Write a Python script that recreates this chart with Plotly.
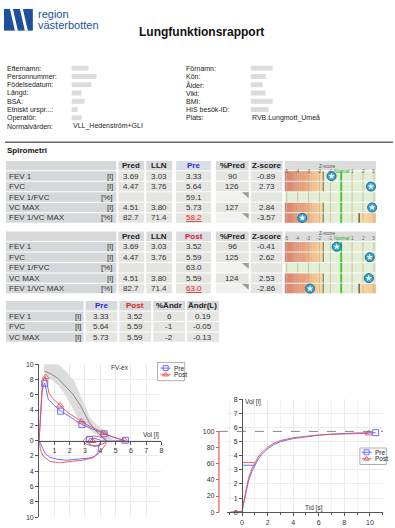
import plotly.graph_objects as go

W, H = 395, 528
FONT = "Liberation Sans, Arial, sans-serif"

# ---------------- data ----------------
info_left_labels = ["Efternamn:", "Personnummer:", "Födelsedatum:", "Längd:", "BSA:",
                    "Etniskt urspr...:", "Operatör:", "Normalvärden:"]
info_right_labels = ["Förnamn:", "Kön:", "Ålder:", "Vikt:", "BMI:", "HIS besök-ID:", "Plats:"]
normalvarden = "VLL_Hedenström+GLI"
plats = "RVB.Lungmott_Umeå"

params = ["FEV 1", "FVC", "FEV 1/FVC", "VC MAX", "FEV 1/VC MAX"]
units = ["[l]", "[l]", "[%]", "[l]", "[%]"]
pred = [3.69, 4.47, None, 4.51, 82.7]
lln = [3.03, 3.76, None, 3.80, 71.4]
pre_val = [3.33, 5.64, 59.1, 5.73, 58.2]
pre_pctpred = [90, 126, None, 127, None]
pre_z = [-0.89, 2.73, None, 2.84, -3.57]
post_val = [3.52, 5.59, 63.0, 5.59, 63.0]
post_pctpred = [96, 125, None, 124, None]
post_z = [-0.41, 2.62, None, 2.53, -2.86]
below_lln = [False, False, False, False, True]

chg_params = ["FEV 1", "FVC", "VC MAX"]
chg_pre = [3.33, 5.64, 5.73]
chg_post = [3.52, 5.59, 5.59]
chg_pct = [6, -1, -2]
chg_abs = [0.19, -0.05, -0.13]

z_tick_vals = [-5, -4, -3, -2, -1, 1, 2, 3]

# flow-volume (volume l, flow l/s)
ref_pred_vol = [0.35, 0.8, 1.25, 1.7, 2.2, 2.7, 3.3, 3.8, 4.38]
ref_pred_flow = [9.1, 8.7, 8.1, 7.2, 6.1, 4.6, 2.3, 1.1, 0.0]
ref_up_vol = [0.3, 0.7, 1.25, 1.8, 2.3, 2.8, 3.3, 3.8, 4.4, 4.9]
ref_up_flow = [11.0, 11.0, 10.0, 9.0, 7.8, 5.5, 3.1, 2.0, 1.2, 0.0]
ref_lo_vol = [0.35, 0.8, 1.25, 1.7, 2.0, 2.5, 2.9, 3.5, 3.95, 4.2]
ref_lo_flow = [8.6, 8.0, 7.2, 6.0, 4.8, 3.1, 2.0, 1.1, 0.5, 0.0]

pre_fv_vol = [0, 0.05, 0.12, 0.2, 0.3, 0.37, 0.45, 0.6, 0.8, 1.0, 1.2, 1.45, 1.7, 2.0, 2.4,
              2.8, 3.2, 3.6, 4.0, 4.25, 4.5, 4.8, 5.1, 5.4, 5.64,
              5.0, 4.5, 4.1, 3.9, 3.6, 3.3, 3.2, 3.3, 3.6, 3.95, 4.0, 3.9, 3.84, 3.6, 3.3,
              2.65, 1.78, 1.2, 0.7, 0.4, 0.15, 0.05, 0]
pre_fv_flow = [0, 2.0, 4.5, 6.5, 7.3, 7.5, 6.8, 5.4, 5.0, 4.6, 4.2, 3.85, 3.5, 3.1, 2.6,
               2.1, 1.75, 1.4, 1.05, 0.9, 0.7, 0.5, 0.3, 0.12, 0.0,
               -0.05, -0.1, -0.05, 0.15, 0.3, 0.25, -0.1, -0.5, -0.75, -0.7, -0.3, -0.6, -1.6,
               -2.1, -2.26, -2.4, -2.56, -2.45, -2.17, -1.7, -0.75, -0.3, 0]
post_fv_vol = [0, 0.05, 0.12, 0.2, 0.3, 0.4, 0.5, 0.65, 0.85, 1.1, 1.37, 1.7, 2.0, 2.4, 2.75,
               3.1, 3.5, 3.9, 4.2, 4.5, 4.8, 5.1, 5.4, 5.59,
               5.0, 4.5, 4.3, 4.1, 3.6, 3.1, 2.9, 3.0, 3.4, 3.9, 4.3, 4.4, 4.35, 4.2, 3.95,
               3.5, 2.86, 2.2, 1.34, 0.7, 0.26, 0.09, 0]
post_fv_flow = [0, 2.2, 5.0, 7.2, 8.1, 8.4, 7.6, 6.2, 5.6, 5.1, 4.6, 4.0, 3.5, 3.0, 2.5,
                2.1, 1.7, 1.3, 1.0, 0.75, 0.5, 0.3, 0.12, 0.0,
                -0.1, -0.15, 0.2, 0.45, 0.6, 0.45, 0.0, -0.4, -0.65, -0.6, -0.3, -0.1, -0.5,
                -0.9, -1.6, -2.26, -2.56, -2.7, -2.9, -2.7, -2.0, -1.2, 0]
pre_fv_mark_vol = [0.37, 1.41, 2.8, 4.25, 5.64, 3.3]
pre_fv_mark_flow = [7.5, 3.85, 2.1, 0.9, 0.05, 0.15]
post_fv_mark_vol = [0.43, 1.37, 2.75, 4.2, 5.59, 3.5]
post_fv_mark_flow = [8.3, 4.6, 2.5, 1.0, 0.05, -0.05]

# volume-time (s, l)
pre_vt_t = [-0.9, -0.3, 0, 0.1, 0.25, 0.5, 0.75, 1.0, 1.25, 1.5, 2, 2.5, 3, 4, 5, 6, 7, 8, 9, 10.45]
pre_vt_v = [0, 0, 0.05, 0.5, 1.2, 2.2, 2.85, 3.33, 3.75, 4.05, 4.5, 4.8, 5.0, 5.22, 5.36, 5.46,
            5.53, 5.58, 5.62, 5.64]
post_vt_t = [-0.9, -0.3, 0, 0.1, 0.25, 0.5, 0.75, 1.0, 1.25, 1.5, 2, 2.5, 3, 4, 5, 6, 7, 8, 9, 9.9]
post_vt_v = [0, 0, 0.05, 0.6, 1.35, 2.4, 3.05, 3.52, 3.9, 4.2, 4.62, 4.9, 5.08, 5.28, 5.4, 5.48,
             5.53, 5.56, 5.58, 5.59]

PRE_C = "rgba(95,95,250,0.9)"
POST_C = "rgba(235,80,80,0.9)"

# ---------------- helpers ----------------
shapes, ann = [], []


def X(p):
    return p / W


def Y(p):
    return 1 - p / H


def rect(x0, y0, x1, y1, fill, line_color=None, lw=0):
    shapes.append(dict(type="rect", xref="paper", yref="paper", x0=X(x0), x1=X(x1),
                       y0=Y(y1), y1=Y(y0), fillcolor=fill,
                       line=dict(width=lw, color=line_color or fill), layer="below"))


def hline(x0, y0, x1, y1, color, width=1):
    shapes.append(dict(type="line", xref="paper", yref="paper", x0=X(x0), x1=X(x1),
                       y0=Y(y0), y1=Y(y1), line=dict(color=color, width=width)))


def path(pts, fill):
    s = "M " + " L ".join(f"{X(x):.5f},{Y(y):.5f}" for x, y in pts) + " Z"
    shapes.append(dict(type="path", xref="paper", yref="paper", path=s, fillcolor=fill,
                       line=dict(width=0), layer="below"))


def txt(x, y, s, size=8, color="#222", anchor="left", bold=False):
    if bold:
        s = f"<b>{s}</b>"
    ann.append(dict(xref="paper", yref="paper", x=X(x), y=Y(y), text=s, showarrow=False,
                    xanchor=anchor, yanchor="middle", borderpad=0,
                    font=dict(size=size, color=color, family=FONT)))


def zrect(z0, z1, y0, y1, fill):
    shapes.append(dict(type="rect", xref="x3", yref="paper", x0=z0, x1=z1, y0=Y(y1), y1=Y(y0),
                       fillcolor=fill, line=dict(width=0), layer="below"))


def zline(z, y0, y1, color, width):
    shapes.append(dict(type="line", xref="x3", yref="paper", x0=z, x1=z, y0=Y(y1), y1=Y(y0),
                       line=dict(color=color, width=width), layer="below"))


def interp_color(z, stops):
    for (za, ca), (zb, cb) in zip(stops[:-1], stops[1:]):
        if za <= z <= zb:
            f = (z - za) / (zb - za)
            c = [round(a + (b - a) * f) for a, b in zip(ca, cb)]
            return f"rgb({c[0]},{c[1]},{c[2]})"
    c = stops[-1][1]
    return f"rgb({c[0]},{c[1]},{c[2]})"


def fmt(v, unit):
    if v is None:
        return ""
    return f"{v:.2f}" if unit == "[l]" else f"{v:.1f}"


# ---------------- header / logo ----------------
LOGO = "#1d4f9e"
rect(4, 5, 33, 27, LOGO)
path([(10, 5), (13, 5), (18, 27), (15, 27)], "white")
path([(20, 5), (23, 5), (28, 27), (25, 27)], "white")
txt(37, 10.5, "region", 11, LOGO)
txt(37, 21.5, "västerbotten", 11, LOGO)
txt(202.5, 28, "Lungfunktionsrapport", 12, "#111", "center", True)

ROW0, STEP = 65, 8.4
left_w = [17, 25, 20, 10, 13, 6, 10]
right_w = [22, 15, 12, 15, 22, 18]
for i, lab in enumerate(info_left_labels):
    y = ROW0 + STEP * i
    txt(6, y, lab, 7, "#222")
    if i < len(left_w):
        rect(72, y - 2.5, 72 + left_w[i], y + 2.5, "#dcdcdc")
txt(72, ROW0 + STEP * 7, normalvarden, 7, "#222")
for i, lab in enumerate(info_right_labels):
    y = ROW0 + STEP * i
    txt(186, y, lab, 7, "#222")
    if i < len(right_w):
        rect(252, y - 2.5, 252 + right_w[i], y + 2.5, "#dcdcdc")
txt(252, ROW0 + STEP * 6, plats, 7, "#222")

hline(5, 140, 395, 140, "#666", 1.5)
txt(6, 148.5, "Spirometri", 8, "#111", bold=True)

# ---------------- main tables ----------------
PITCH, CH = 10.6, 9.6
LABEL_C, VAL_C, HEAD_C, HEADV_C, EMPTY_C = "#d5d8da", "#e5e5e2", "#d7d9db", "#d9dde5", "#f1f1ef"
cols = [(6, 117), (119, 145), (147, 173), (177, 212), (217, 250), (252, 284)]
BAR0, BAR1 = 286, 378
ZMIN, ZMAX = -5.2, 3.2
GREEN_BG = "#e4eed5"
LEFT_STOPS = [(-5.2, (216, 128, 108)), (-4.0, (228, 148, 118)), (-3.0, (238, 172, 128)),
              (-2.2, (247, 200, 145)), (-1.645, (251, 222, 170))]
RIGHT_STOPS = [(1.645, (250, 218, 166)), (3.2, (244, 194, 138))]

zmark_x, zmark_y = [], []


def main_table(top, val, pct, zs, head_txt, head_col):
    for i, (a, b) in enumerate(cols):
        rect(a, top, b, top + CH, HEADV_C if i == 3 else HEAD_C)
    cy = top + CH / 2
    heads = ["", "Pred", "LLN", head_txt, "%Pred", "Z-score"]
    colors = ["#222", "#222", "#222", head_col, "#222", "#222"]
    for (a, b), h, c in zip(cols, heads, colors):
        if h:
            txt((a + b) / 2, cy, h, 8, c, "center", True)
    # z-score header
    zrect(ZMIN, ZMAX, top, top + CH, "#dcdcdc")
    ann.append(dict(xref="x3", yref="paper", x=-1.3, y=Y(top + 2.0), text="Z-score",
                    showarrow=False, borderpad=0, font=dict(size=4.8, color="#555", family=FONT)))
    for zt in z_tick_vals:
        ann.append(dict(xref="x3", yref="paper", x=zt, y=Y(top + 6.8), text=str(zt),
                        showarrow=False, borderpad=0, font=dict(size=4.8, color="#666", family=FONT)))
    ann.append(dict(xref="x3", yref="paper", x=0.05, y=Y(top + 6.8), text="Normal",
                    showarrow=False, borderpad=0, font=dict(size=4.8, color="#22aa22", family=FONT)))
    for r in range(len(params)):
        yt = top + (r + 1) * PITCH
        yb = yt + CH
        cy = yt + CH / 2
        u = units[r]
        rect(cols[0][0], yt, cols[0][1], yb, LABEL_C)
        txt(8, cy, params[r], 8, "#333")
        txt(115, cy, u, 8, "#333", "right")
        rect(cols[1][0], yt, cols[1][1], yb, VAL_C)
        txt(sum(cols[1]) / 2, cy, fmt(pred[r], u), 8, "#333", "center")
        rect(cols[2][0], yt, cols[2][1], yb, VAL_C)
        txt(sum(cols[2]) / 2, cy, fmt(lln[r], u), 8, "#333", "center")
        rect(cols[3][0], yt, cols[3][1], yb, VAL_C)
        s = fmt(val[r], u)
        if below_lln[r]:
            txt(sum(cols[3]) / 2, cy, f"<u>{s}</u>", 8, "#e02020", "center")
        else:
            txt(sum(cols[3]) / 2, cy, s, 8, "#333", "center")
        a, b = cols[4]
        if pct[r] is None:
            rect(a, yt, b, yb, EMPTY_C)
            path([(b - 7, yt), (b, yt), (b, yt + 6)], "#9a9a9a")
        else:
            rect(a, yt, b, yb, VAL_C)
            txt((a + b) / 2, cy, str(pct[r]), 8, "#333", "center")
        rect(cols[5][0], yt, cols[5][1], yb, VAL_C)
        if zs[r] is not None:
            txt(sum(cols[5]) / 2, cy, f"{zs[r]:.2f}", 8, "#333", "center")
        # z-score bar
        zrect(ZMIN, ZMAX, yt, yb, GREEN_BG)
        if zs[r] is not None:
            n = 18
            step = (-1.645 - ZMIN) / n
            for k in range(n):
                z0 = ZMIN + k * step
                zrect(z0, z0 + step * 1.05, yt, yb, interp_color(z0 + step / 2, LEFT_STOPS))
            if below_lln[r]:
                n2 = 8
                step2 = (ZMAX - 1.645) / n2
                for k in range(n2):
                    z0 = 1.645 + k * step2
                    zrect(z0, z0 + step2 * 1.05, yt, yb, interp_color(z0 + step2 / 2, RIGHT_STOPS))
        for zt in z_tick_vals:
            zline(zt, yt, yb, "#b9b9a6", 0.8)
        if zs[r] is not None:
            zline(-1.645, yt, yb, "#8c8468", 1.3)
            if below_lln[r]:
                zline(1.645, yt, yb, "#5a4c34", 1.3)
        zline(0, yt, yb, "#2ccc2c", 1.8)
        if zs[r] is not None:
            zmark_x.append(zs[r])
            zmark_y.append(cy)


main_table(159, pre_val, pre_pctpred, pre_z, "Pre", "#2b2be0")
main_table(230.6, post_val, post_pctpred, post_z, "Post", "#e02020")

# ---------------- change table ----------------
top3 = 301
cols3 = [(6, 84), (86, 118), (120, 152), (154, 186), (188, 220)]
heads3 = ["", "Pre", "Post", "%Ändr", "Ändr(L)"]
hcol3 = ["#222", "#2b2be0", "#e02020", "#222", "#222"]
for i, ((a, b), h, c) in enumerate(zip(cols3, heads3, hcol3)):
    rect(a, top3, b, top3 + CH, HEAD_C)
    if h:
        txt((a + b) / 2, top3 + CH / 2, h, 8, c, "center", True)
for r in range(len(chg_params)):
    yt = top3 + (r + 1) * PITCH
    yb = yt + CH
    cy = yt + CH / 2
    rect(cols3[0][0], yt, cols3[0][1], yb, LABEL_C)
    txt(8, cy, chg_params[r], 8, "#333")
    txt(82, cy, "[l]", 8, "#333", "right")
    vals = [f"{chg_pre[r]:.2f}", f"{chg_post[r]:.2f}", str(chg_pct[r]), f"{chg_abs[r]:.2f}"]
    for (a, b), s in zip(cols3[1:], vals):
        rect(a, yt, b, yb, VAL_C)
        txt((a + b) / 2, cy, s, 8, "#333", "center")

# ---------------- figure ----------------
fig = go.Figure()
NOH = dict(hoverinfo="skip", showlegend=False)

# flow-volume
fig.add_trace(go.Scatter(x=ref_up_vol + ref_lo_vol[::-1], y=ref_up_flow + ref_lo_flow[::-1],
                         fill="toself", fillcolor="#dcdcdc", mode="lines", line=dict(width=0),
                         xaxis="x", yaxis="y", **NOH))
fig.add_trace(go.Scatter(x=ref_pred_vol, y=ref_pred_flow, mode="lines",
                         line=dict(color="#8a8a8a", width=1), xaxis="x", yaxis="y", **NOH))
fig.add_trace(go.Scatter(x=pre_fv_vol, y=pre_fv_flow, mode="lines", line=dict(color=PRE_C, width=1),
                         xaxis="x", yaxis="y", **NOH))
fig.add_trace(go.Scatter(x=post_fv_vol, y=post_fv_flow, mode="lines", line=dict(color=POST_C, width=1),
                         xaxis="x", yaxis="y", **NOH))
fig.add_trace(go.Scatter(x=pre_fv_mark_vol, y=pre_fv_mark_flow, mode="markers",
                         marker=dict(symbol="square-open", size=6, color=PRE_C, line=dict(width=1)),
                         xaxis="x", yaxis="y", **NOH))
fig.add_trace(go.Scatter(x=post_fv_mark_vol, y=post_fv_mark_flow, mode="markers",
                         marker=dict(symbol="triangle-up-open", size=6, color=POST_C, line=dict(width=1)),
                         xaxis="x", yaxis="y", **NOH))

# volume-time
fig.add_trace(go.Scatter(x=pre_vt_t, y=pre_vt_v, mode="lines", line=dict(color=PRE_C, width=1),
                         xaxis="x2", yaxis="y2", **NOH))
fig.add_trace(go.Scatter(x=post_vt_t, y=post_vt_v, mode="lines", line=dict(color=POST_C, width=1),
                         xaxis="x2", yaxis="y2", **NOH))
fig.add_trace(go.Scatter(x=[0, 1], y=[chg_pre[0]] * 2, mode="lines", line=dict(color=PRE_C, width=1),
                         xaxis="x2", yaxis="y2", **NOH))
fig.add_trace(go.Scatter(x=[0, 1], y=[chg_post[0]] * 2, mode="lines", line=dict(color=POST_C, width=1),
                         xaxis="x2", yaxis="y2", **NOH))
fig.add_trace(go.Scatter(x=pre_vt_t[-1:], y=pre_vt_v[-1:], mode="markers", cliponaxis=False,
                         marker=dict(symbol="square-open", size=6, color=PRE_C, line=dict(width=1)),
                         xaxis="x2", yaxis="y2", **NOH))
fig.add_trace(go.Scatter(x=post_vt_t[-1:], y=post_vt_v[-1:], mode="markers", cliponaxis=False,
                         marker=dict(symbol="triangle-up-open", size=6, color=POST_C, line=dict(width=1)),
                         xaxis="x2", yaxis="y2", **NOH))
fig.add_trace(go.Scatter(x=[None], y=[None], mode="lines", xaxis="x2", yaxis="y3", **NOH))

# z-score markers
fig.add_trace(go.Scatter(x=zmark_x, y=zmark_y, mode="markers", cliponaxis=False,
                         marker=dict(symbol="circle", size=9, color="#36a8d8",
                                     line=dict(color="#1b6790", width=1)),
                         xaxis="x3", yaxis="y4", **NOH))
fig.add_trace(go.Scatter(x=zmark_x, y=zmark_y, mode="markers", cliponaxis=False,
                         marker=dict(symbol="star", size=5, color="white", line=dict(width=0)),
                         xaxis="x3", yaxis="y4", **NOH))


# hand-drawn legends (pixel axis x4/y4)
def legend_box(x0, y0, x1, y1, rows, glyph_x0, glyph_x1, text_x):
    shapes.append(dict(type="rect", xref="x4", yref="y4", x0=x0, x1=x1, y0=y0, y1=y1,
                       fillcolor="white", line=dict(color="#9a9a9a", width=0.8), layer="below"))
    for (yy, name, col, sym) in rows:
        fig.add_trace(go.Scatter(x=[glyph_x0, glyph_x1], y=[yy, yy], mode="lines",
                                 line=dict(color=col, width=1), xaxis="x4", yaxis="y4",
                                 cliponaxis=False, **NOH))
        fig.add_trace(go.Scatter(x=[(glyph_x0 + glyph_x1) / 2], y=[yy], mode="markers",
                                 marker=dict(symbol=sym, size=5, color=col, line=dict(width=1)),
                                 xaxis="x4", yaxis="y4", cliponaxis=False, **NOH))
        txt(text_x, yy, name, 6.5, "#222")


legend_box(158.3, 363.3, 185.7, 381.7,
           [(369, "Pre", PRE_C, "square-open"), (375.7, "Post", POST_C, "triangle-up-open")],
           161.5, 171.5, 174)
legend_box(361.7, 450, 388.3, 466.7,
           [(454.3, "Pre", PRE_C, "square-open"), (461, "Post", POST_C, "triangle-up-open")],
           363.5, 373.5, 375.5)

# chart texts
ann.append(dict(xref="x", yref="y", x=5.3, y=9.6, text="FV-ex", showarrow=False,
                font=dict(size=6.5, color="#333", family=FONT)))
ann.append(dict(xref="x", yref="y", x=8, y=0.75, text="Vol [l]", showarrow=False, xanchor="right",
                font=dict(size=6.5, color="#333", family=FONT)))
ann.append(dict(xref="x2", yref="y2", x=0.1, y=7.8, text="Vol [l]", showarrow=False, xanchor="left",
                font=dict(size=6.5, color="#333", family=FONT)))
ann.append(dict(xref="x2", yref="y2", x=5.6, y=0.3, text="Tid [s]", showarrow=False,
                font=dict(size=6.5, color="#333", family=FONT)))

vc_ref = chg_pre[2]
shapes.append(dict(type="line", xref="paper", yref="y2", x0=X(220), x1=X(385), y0=vc_ref, y1=vc_ref,
                   line=dict(color="#666", width=0.8, dash="dash")))
shapes.append(dict(type="line", xref="paper", yref="y2", x0=X(220), x1=X(220), y0=0, y1=vc_ref,
                   line=dict(color="#e05a5a", width=1.2)))

AX = dict(tickfont=dict(size=7, color="#333", family=FONT), ticks="outside", ticklen=3,
          tickcolor="#555", showline=True, linecolor="#555", linewidth=1, zeroline=False,
          gridcolor="#ececec", gridwidth=1)
fy_vals = [-10, -8, -6, -4, -2, 0, 2, 4, 6, 8, 10]
fig.update_layout(
    width=W, height=H, margin=dict(l=0, r=0, t=0, b=0),
    paper_bgcolor="white", plot_bgcolor="rgba(0,0,0,0)", showlegend=False,
    font=dict(family=FONT),
    xaxis=dict(domain=[X(39.3), X(162.3)], range=[0, 8], anchor="free", position=Y(442.5),
               tickvals=[1, 2, 3, 4, 5, 6, 7, 8], **AX),
    yaxis=dict(domain=[Y(520), Y(365)], range=[-10, 10], anchor="x",
               tickvals=fy_vals, ticktext=[str(abs(v)) for v in fy_vals], **AX),
    xaxis2=dict(domain=[X(228), X(385)], range=[-1.19, 11.03], anchor="y2",
                tickvals=[0, 2, 4, 6, 8, 10],
                minor=dict(dtick=1, tick0=0, ticks="outside", ticklen=2, tickcolor="#555",
                           showgrid=True, gridcolor="#f2f2f2"), **AX),
    yaxis2=dict(domain=[Y(515), Y(400.7)], range=[0, 8], anchor="free", position=X(243.3),
                dtick=1, **AX),
    yaxis3=dict(domain=[Y(515), Y(400.7)], range=[0, 800 / vc_ref], overlaying="y2",
                anchor="free", position=X(220), side="left", showline=False, showgrid=False,
                zeroline=False, tickvals=[0, 20, 40, 60, 80, 100], ticks="outside", ticklen=3,
                tickcolor="#e05a5a", tickfont=dict(size=7, color="#333", family=FONT)),
    xaxis3=dict(domain=[X(BAR0), X(BAR1)], range=[ZMIN, ZMAX], anchor="y4", visible=False),
    xaxis4=dict(domain=[0, 1], range=[0, W], anchor="y4", visible=False),
    yaxis4=dict(domain=[0, 1], range=[H, 0], anchor="x4", visible=False),
    shapes=shapes, annotations=ann,
)

fig.write_html("out.html", config={"displayModeBar": False},
               post_script="document.body.style.margin='0px';document.body.style.overflow='hidden';")
